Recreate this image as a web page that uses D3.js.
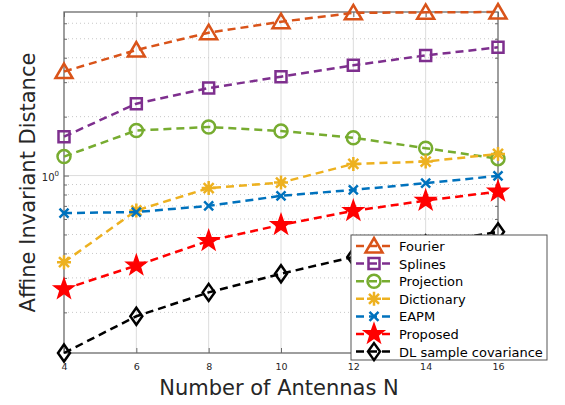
<!DOCTYPE html>
<html><head><meta charset="utf-8">
<script src="https://cdn.jsdelivr.net/npm/d3@7"></script>
<style>body{margin:0;background:#fff}svg{display:block}</style>
</head><body>
<script>
const antennas = [4, 6, 8, 10, 12, 14, 16];
const fourier    = [3.40, 4.38, 5.37, 6.11, 6.78, 6.82, 6.85];
const splines    = [1.58, 2.33, 2.80, 3.20, 3.66, 4.11, 4.52];
const projection = [1.25, 1.70, 1.77, 1.69, 1.56, 1.38, 1.22];
const dictionary = [0.361, 0.663, 0.863, 0.921, 1.147, 1.179, 1.29];
const eapm       = [0.643, 0.651, 0.700, 0.788, 0.845, 0.915, 0.996];
const proposed   = [0.263, 0.347, 0.464, 0.560, 0.660, 0.745, 0.829];
const dlSample   = [0.124, 0.191, 0.253, 0.315, 0.384, 0.447, 0.516];
const seriesNames = ["Fourier", "Splines", "Projection", "Dictionary", "EAPM", "Proposed", "DL sample covariance"];
const xTicks = [4, 6, 8, 10, 12, 14, 16];
const yMinorTicks = [0.2, 0.3, 0.4, 0.5, 0.6, 0.7, 0.8, 0.9, 2, 3, 4, 5, 6];

const series = [
  {name: seriesNames[0], values: fourier,    color: "#D95319", marker: "triangle"},
  {name: seriesNames[1], values: splines,    color: "#7E2F8E", marker: "square"},
  {name: seriesNames[2], values: projection, color: "#77AC30", marker: "circle"},
  {name: seriesNames[3], values: dictionary, color: "#EDB120", marker: "asterisk"},
  {name: seriesNames[4], values: eapm,       color: "#0072BD", marker: "x"},
  {name: seriesNames[5], values: proposed,   color: "#FF0000", marker: "star"},
  {name: seriesNames[6], values: dlSample,   color: "#000000", marker: "diamond"}
];

const FONT = "'DejaVu Sans', 'Noto Sans', sans-serif";
const W = 565, H = 405;
const L = 64, R = 498, T = 12, B = 353;
const svg = d3.select("body").append("svg").attr("width", W).attr("height", H);

const x = d3.scaleLinear().domain([4, 16]).range([L, R]);
const allVals = series.flatMap(s => s.values);
const y = d3.scaleLog().domain(d3.extent(allVals)).range([B, T]);

// grid
const grid = svg.append("g");
grid.selectAll(".gx").data(xTicks.slice(1, -1)).join("line")
  .attr("x1", d => x(d)).attr("x2", d => x(d)).attr("y1", T).attr("y2", B)
  .attr("stroke", "#dcdcdc").attr("stroke-width", 1);
grid.selectAll(".gym").data(yMinorTicks).join("line")
  .attr("x1", L).attr("x2", R).attr("y1", d => y(d)).attr("y2", d => y(d))
  .attr("stroke", "#c8c8c8").attr("stroke-width", 1).attr("stroke-dasharray", "1,3");
grid.append("line").attr("x1", L).attr("x2", R).attr("y1", y(1)).attr("y2", y(1))
  .attr("stroke", "#dcdcdc").attr("stroke-width", 1);

// axes (box, inward ticks)
const axCol = "#6a6a6a";
const xAxis = d3.axisBottom(x).tickValues(xTicks).tickSize(-5).tickFormat(d3.format("d"));
const gx = svg.append("g").attr("transform", `translate(0,${B})`).call(xAxis);
gx.select(".domain").remove();
gx.selectAll(".tick line").attr("stroke", axCol);
gx.selectAll(".tick text").attr("dy", "0").attr("y", 17)
  .style("font-family", FONT).style("font-size", "9.5px").attr("fill", "#262626");
const gxTop = svg.append("g").attr("transform", `translate(0,${T})`)
  .call(d3.axisTop(x).tickValues(xTicks).tickSize(-5).tickFormat(""));
gxTop.select(".domain").remove();
gxTop.selectAll(".tick line").attr("stroke", axCol);

const gyL = svg.append("g").attr("transform", `translate(${L},0)`)
  .call(d3.axisLeft(y).tickValues(yMinorTicks).tickSize(-3).tickFormat(""));
gyL.select(".domain").remove();
gyL.selectAll(".tick line").attr("stroke", axCol);
const gyR = svg.append("g").attr("transform", `translate(${R},0)`)
  .call(d3.axisRight(y).tickValues(yMinorTicks).tickSize(-3).tickFormat(""));
gyR.select(".domain").remove();
gyR.selectAll(".tick line").attr("stroke", axCol);
const gyMajL = svg.append("g").attr("transform", `translate(${L},0)`)
  .call(d3.axisLeft(y).tickValues([1]).tickSize(-5).tickFormat(""));
gyMajL.select(".domain").remove();
gyMajL.selectAll(".tick line").attr("stroke", axCol);
const gyMajR = svg.append("g").attr("transform", `translate(${R},0)`)
  .call(d3.axisRight(y).tickValues([1]).tickSize(-5).tickFormat(""));
gyMajR.select(".domain").remove();
gyMajR.selectAll(".tick line").attr("stroke", axCol);

const lbl = svg.append("text").attr("x", L - 5).attr("y", y(1) + 5).attr("text-anchor", "end")
  .style("font-family", FONT).style("font-size", "10px").attr("fill", "#262626");
lbl.append("tspan").text("10");
lbl.append("tspan").attr("dy", -5).style("font-size", "7px").text("0");

svg.append("rect").attr("x", L).attr("y", T).attr("width", R - L).attr("height", B - T)
  .attr("fill", "none").attr("stroke", axCol).attr("stroke-width", 1.3);

// marker paths
function markerPath(type) {
  switch (type) {
    case "triangle": return "M0,-8L8.5,6.5L-8.5,6.5Z";
    case "square": return "M-5.5,-5.5H5.5V5.5H-5.5Z";
    case "circle": return "M6.5,0A6.5,6.5 0 1,1 -6.5,0A6.5,6.5 0 1,1 6.5,0Z";
    case "asterisk": return "M-7,0H7M0,-7V7M-5,-5L5,5M-5,5L5,-5";
    case "x": return "M-4.5,-4.5L4.5,4.5M-4.5,4.5L4.5,-4.5";
    case "diamond": return "M0,-8.5L6,0L0,8.5L-6,0Z";
    case "star": {
      let p = [];
      for (let i = 0; i < 10; i++) {
        const r = i % 2 === 0 ? 10.5 : 4.2;
        const a = -Math.PI / 2 + i * Math.PI / 5;
        p.push([r * Math.cos(a), r * Math.sin(a)]);
      }
      return "M" + p.map(q => q[0].toFixed(2) + "," + q[1].toFixed(2)).join("L") + "Z";
    }
  }
}
function drawMarker(g, s, cx, cy) {
  const filled = s.marker === "star";
  g.append("path").attr("d", markerPath(s.marker))
    .attr("transform", `translate(${cx},${cy})`)
    .attr("fill", filled ? s.color : "none")
    .attr("stroke", s.color).attr("stroke-width", s.marker === "star" ? 1.5 : 2.5)
    .attr("stroke-linejoin", "miter");
}

const line = d3.line().x((d, i) => x(antennas[i])).y(d => y(d));
series.forEach(s => {
  const g = svg.append("g");
  g.append("path").attr("d", line(s.values)).attr("fill", "none")
    .attr("stroke", s.color).attr("stroke-width", 2.5).attr("stroke-dasharray", "8,5");
  s.values.forEach((v, i) => drawMarker(g, s, x(antennas[i]), y(v)));
});

// legend
const lg = svg.append("g");
const lx = 351, ly = 235, lw = 196, lh = 125;
lg.append("rect").attr("x", lx).attr("y", ly).attr("width", lw).attr("height", lh)
  .attr("fill", "#fff").attr("stroke", "#555").attr("stroke-width", 1);
series.forEach((s, i) => {
  const yy = ly + 11 + i * 17.6;
  lg.append("line").attr("x1", lx + 4).attr("x2", lx + 42).attr("y1", yy).attr("y2", yy)
    .attr("stroke", s.color).attr("stroke-width", 2.5).attr("stroke-dasharray", "8,5").attr("stroke-dashoffset", -1);
  drawMarker(lg, s, lx + 23, yy);
  lg.append("text").attr("x", lx + 48).attr("y", yy + 5).text(s.name)
    .style("font-family", FONT).style("font-size", "13px").attr("fill", "#000");
});

// axis titles
svg.append("text").attr("x", (L + R) / 2 - 2).attr("y", 395).attr("text-anchor", "middle")
  .style("font-family", FONT).style("font-size", "21px").attr("fill", "#262626")
  .text("Number of Antennas N");
svg.append("text").attr("transform", `translate(35,${(T + B) / 2}) rotate(-90)`).attr("text-anchor", "middle")
  .style("font-family", FONT).style("font-size", "21px").attr("fill", "#262626")
  .text("Affine Invariant Distance");
</script>
</body></html>
